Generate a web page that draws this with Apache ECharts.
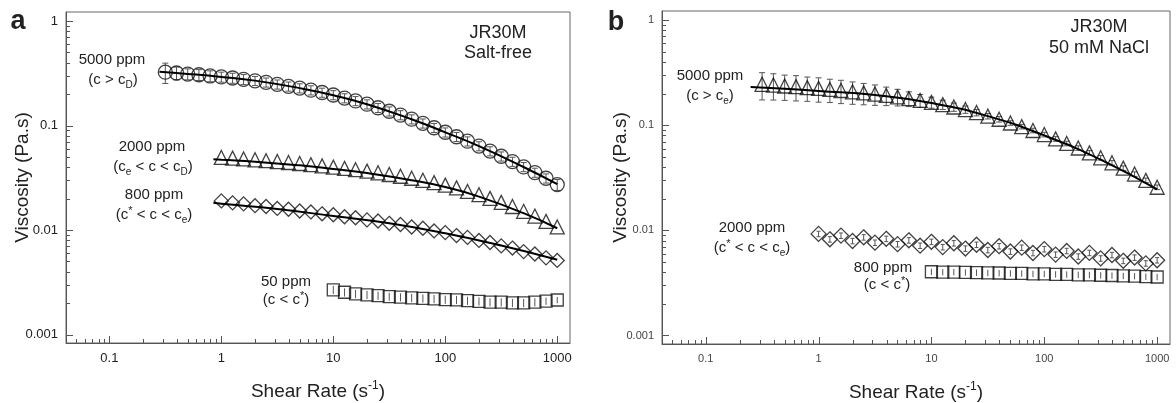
<!DOCTYPE html>
<html><head><meta charset="utf-8">
<script src="https://cdn.jsdelivr.net/npm/echarts@6/dist/echarts.min.js"></script>
<style>html,body{margin:0;padding:0;background:#fff}#c{width:1176px;height:403px}</style>
</head><body><div id="c"></div>
<script>
// ---------- data ----------
const shearRate = [0.316,0.398,0.501,0.631,0.794,1,1.26,1.58,2,2.51,3.16,3.98,5.01,6.31,7.94,10,12.6,15.8,20,25.1,31.6,39.8,50.1,63.1,79.4,100,126,158,200,251,316,398,501,631,794,1000];

// Panel a : JR30M salt-free
const a5000 = [0.324,0.318,0.311,0.306,0.298,0.292,0.285,0.277,0.268,0.259,0.248,0.237,0.228,0.218,0.207,0.196,0.183,0.172,0.160,0.148,0.137,0.126,0.115,0.105,0.0952,0.0862,0.0781,0.0708,0.0636,0.0569,0.0508,0.0452,0.0402,0.0355,0.0313,0.0272];
const a5000Err = [0.22,0.14,0.12,0.12,0.12,0.11,0.11,0.11,0.1,0.1,0.1,0.1,0.1,0.1,0.1,0.1,0.1,0.1,0.1,0.1,0.1,0.1,0.1,0.1,0.1,0.1,0.1,0.1,0.1,0.1,0.1,0.1,0.1,0.1,0.1,0.12];
const a5000FitX = [0.28,0.5,1,2,5,10,20,50,100,200,500,1000];
const a5000FitY = [0.327,0.312,0.292,0.269,0.228,0.195,0.160,0.115,0.0861,0.0635,0.0401,0.0275];
const a2000 = [0.0495,0.0488,0.0479,0.0470,0.0461,0.0452,0.0443,0.0433,0.0422,0.0411,0.0400,0.0389,0.0378,0.0366,0.0353,0.0340,0.0327,0.0313,0.0299,0.0284,0.0269,0.0253,0.0234,0.0218,0.0201,0.0184,0.0168,0.0151,0.0136,0.0121,0.0107];
const a2000FitX = [0.85,1,2,5,10,20,50,100,200,500,1000];
const a2000FitY = [0.0475,0.0470,0.0451,0.0416,0.0384,0.0351,0.0300,0.0258,0.0209,0.0145,0.0104];
const a800 = [0.0190,0.0182,0.0178,0.0171,0.0168,0.0161,0.0158,0.0152,0.0149,0.0143,0.0140,0.0134,0.0131,0.0125,0.0122,0.0116,0.0113,0.0107,0.0104,0.00980,0.00945,0.00885,0.00850,0.00795,0.00760,0.00705,0.00672,0.00622,0.00590,0.00542,0.00512];
const a800FitX = [0.85,1,3.16,10,31.6,100,316,1000];
const a800FitY = [0.0182,0.0178,0.0159,0.0136,0.0116,0.0093,0.0071,0.0052];
const a50 = [0.00268,0.00254,0.00245,0.00240,0.00236,0.00231,0.00228,0.00224,0.00222,0.00219,0.00216,0.00215,0.00211,0.00208,0.00204,0.00204,0.00201,0.00201,0.00204,0.00209,0.00214];
const a50Err = [0.09,0.09,0.09,0.09,0.09,0.09,0.09,0.09,0.09,0.09,0.09,0.09,0.09,0.09,0.09,0.09,0.09,0.09,0.09,0.08,0.07];

// Panel b : JR30M 50 mM NaCl
const b5000 = [0.245,0.241,0.236,0.233,0.228,0.224,0.219,0.214,0.208,0.203,0.198,0.192,0.186,0.179,0.172,0.165,0.157,0.149,0.141,0.132,0.122,0.114,0.105,0.0970,0.0891,0.0815,0.0741,0.0671,0.0607,0.0546,0.0490,0.0439,0.0391,0.0343,0.0299,0.0257];
const b5000Err = [0.29,0.28,0.27,0.27,0.26,0.26,0.25,0.25,0.24,0.23,0.22,0.2,0.18,0.16,0.14,0.12,0.1,0.09,0.08,0.07,0.06,0.06,0.05,0.05,0.05,0.05,0.05,0.05,0.05,0.05,0.05,0.05,0.05,0.05,0.05,0.05];
const b5000FitX = [0.25,0.5,1,3.16,10,31.6,100,316,1000];
const b5000FitY = [0.231,0.222,0.212,0.194,0.163,0.122,0.080,0.047,0.0245];
const b2000 = [0.00925,0.00822,0.00891,0.00792,0.00859,0.00764,0.00831,0.00739,0.00804,0.00715,0.00778,0.00693,0.00754,0.00671,0.00730,0.00650,0.00707,0.00629,0.00685,0.00609,0.00663,0.00588,0.00637,0.00564,0.00611,0.00541,0.00583,0.00513,0.00551,0.00485,0.00520];
const b2000Err = [0.06,0.06,0.06,0.06,0.06,0.06,0.06,0.06,0.06,0.06,0.06,0.06,0.06,0.06,0.06,0.06,0.06,0.06,0.06,0.06,0.06,0.06,0.06,0.06,0.06,0.06,0.06,0.06,0.06,0.06,0.06];
const b800 = [0.00404,0.00401,0.00401,0.00398,0.00397,0.00394,0.00393,0.00390,0.00389,0.00386,0.00385,0.00382,0.00381,0.00378,0.00377,0.00374,0.00372,0.00369,0.00367,0.00363,0.00360];
const b800Err = [0.07,0.07,0.07,0.07,0.07,0.07,0.07,0.07,0.07,0.07,0.07,0.07,0.07,0.07,0.07,0.07,0.07,0.07,0.07,0.07,0.07];

// axis ticks
const xTickLabels = ['0.1','1','10','100','1000'];
const yTickLabels = ['0.001','0.01','0.1','1'];
const xMajorTicks = [0.1,1,10,100,1000];
const yMajorTicks = [0.001,0.01,0.1,1];
const xMinorTicks = [0.05,0.06,0.07,0.08,0.09,0.2,0.3,0.4,0.5,0.6,0.7,0.8,0.9,2,3,4,5,6,7,8,9,20,30,40,50,60,70,80,90,200,300,400,500,600,700,800,900];
const yMinorTicks = [0.002,0.003,0.004,0.005,0.006,0.007,0.008,0.009,0.02,0.03,0.04,0.05,0.06,0.07,0.08,0.09,0.2,0.3,0.4,0.5,0.6,0.7,0.8,0.9];

// ---------- helpers ----------
const FONT = '"Liberation Sans", Arial, Helvetica, sans-serif';
const INK = '#222';
const AXIS = '#555';

function pairs(ys) { const off = shearRate.length - ys.length; return ys.map((v, i) => [shearRate[off + i], v]); }
function errData(ys, rel) { const off = shearRate.length - ys.length; return ys.map((v, i) => [shearRate[off + i], v * (1 - rel[i]), v * (1 + rel[i])]); }
function fit(xs, ys) { return xs.map((x, i) => [x, ys[i]]); }

function scatter(gi, ys, symbol, size) {
  return { type: 'scatter', xAxisIndex: gi, yAxisIndex: gi, data: pairs(ys), symbol, symbolSize: size, z: 4, silent: true,
    itemStyle: { color: 'rgba(255,255,255,0)', borderColor: '#111', borderWidth: 1.3 } };
}
function fitLine(gi, xs, ys) {
  return { type: 'line', xAxisIndex: gi, yAxisIndex: gi, data: fit(xs, ys), smooth: true, showSymbol: false, z: 5, silent: true,
    lineStyle: { color: '#000', width: 2 } };
}
function errSeries(gi, data, cap) {
  return { type: 'custom', xAxisIndex: gi, yAxisIndex: gi, silent: true, z: 3, data, encode: { x: 0, y: [1, 2] },
    renderItem: (params, api) => {
      const x = api.value(0), lo = api.value(1), hi = api.value(2);
      const p1 = api.coord([x, lo]), p2 = api.coord([x, hi]);
      const st = { stroke: '#555', lineWidth: 1 };
      const ch = [{ type: 'line', shape: { x1: p1[0], y1: p1[1], x2: p2[0], y2: p2[1] }, style: st }];
      if (cap) {
        ch.push({ type: 'line', shape: { x1: p1[0] - cap, y1: p1[1], x2: p1[0] + cap, y2: p1[1] }, style: st });
        ch.push({ type: 'line', shape: { x1: p2[0] - cap, y1: p2[1], x2: p2[0] + cap, y2: p2[1] }, style: st });
      }
      return { type: 'group', children: ch };
    } };
}
function tickSeries(gi, axis, values, len) {
  return { type: 'custom', xAxisIndex: gi, yAxisIndex: gi, silent: true, z: 6,
    data: values.map(v => axis === 'x' ? [v, 0.01] : [1, v]),
    renderItem: (params, api) => {
      const cs = params.coordSys;
      if (axis === 'x') {
        const px = Math.round(api.coord([api.value(0), 0.01])[0]) + 0.5;
        const y0 = cs.y + cs.height;
        return { type: 'line', shape: { x1: px, y1: y0, x2: px, y2: y0 - len }, style: { stroke: AXIS, lineWidth: 1 } };
      }
      const py = Math.round(api.coord([1, api.value(1)])[1]) + 0.5;
      return { type: 'line', shape: { x1: cs.x, y1: py, x2: cs.x + len, y2: py }, style: { stroke: AXIS, lineWidth: 1 } };
    } };
}
function decadeLabel(labels) {
  return v => {
    const l = Math.log10(v);
    if (Math.abs(l - Math.round(l)) > 1e-6) return '';
    const s = labels.find(t => Math.abs(Math.log10(parseFloat(t)) - l) < 1e-6);
    return s || '';
  };
}
function xAxis(gi, fs, col) {
  return { type: 'log', logBase: 10, gridIndex: gi, min: 0.041, max: 1300,
    axisLine: { show: true, onZero: false, lineStyle: { color: AXIS, width: 1 } },
    axisTick: { show: false }, splitLine: { show: false }, minorTick: { show: false },
    axisLabel: { formatter: decadeLabel(xTickLabels), fontSize: fs, color: col, fontFamily: FONT, margin: 9, showMinLabel: false, showMaxLabel: false },
    name: 'Shear Rate (s{sup|-1})', nameLocation: 'middle', nameGap: 37, nameMoveOverlap: false,
    nameTextStyle: { fontSize: 19, color: INK, fontFamily: FONT, lineHeight: 24,
      rich: { sup: { fontSize: 12, lineHeight: 12, verticalAlign: 'top', color: INK, fontFamily: FONT } } } };
}
function yAxis(gi, fs, col, gap) {
  return { type: 'log', logBase: 10, gridIndex: gi, min: 0.00083, max: 1.22,
    axisLine: { show: true, onZero: false, lineStyle: { color: AXIS, width: 1 } },
    axisTick: { show: false }, splitLine: { show: false }, minorTick: { show: false },
    axisLabel: { formatter: decadeLabel(yTickLabels), fontSize: fs, color: col, fontFamily: FONT, margin: 8, showMinLabel: false, showMaxLabel: false },
    name: 'Viscosity (Pa.s)', nameLocation: 'middle', nameGap: gap, nameMoveOverlap: false,
    nameTextStyle: { fontSize: 19, color: INK, fontFamily: FONT } };
}
const RICH = {
  d: { fontSize: 10, lineHeight: 10, verticalAlign: 'bottom', fontFamily: FONT, fill: INK },
  p: { fontSize: 11, lineHeight: 11, verticalAlign: 'top', fontFamily: FONT, fill: INK }
};
function txt(text, x, y, size, weight) {
  return { type: 'text', silent: true, z: 10,
    style: { text, x, y, textAlign: 'center', textVerticalAlign: 'middle', fill: INK,
      font: (weight || 'normal') + ' ' + size + 'px ' + FONT, lineHeight: 20, rich: RICH } };
}

// ---------- chart ----------
const chart = echarts.init(document.getElementById('c'), null, { renderer: 'canvas' });
chart.setOption({
  animation: false,
  backgroundColor: '#fff',
  grid: [
    { left: 66, top: 12, width: 504, height: 331, show: true, borderColor: '#666', borderWidth: 1, backgroundColor: 'transparent', outerBoundsMode: 'none' },
    { left: 662, top: 11, width: 508, height: 333, show: true, borderColor: '#666', borderWidth: 1, backgroundColor: 'transparent', outerBoundsMode: 'none' }
  ],
  xAxis: [xAxis(0, 13, '#222'), xAxis(1, 11, '#444')],
  yAxis: [yAxis(0, 13, '#222', 34), yAxis(1, 11, '#444', 32)],
  series: [
    // panel a
    errSeries(0, errData(a5000, a5000Err), 3),
    errSeries(0, errData(a50, a50Err), 0),
    fitLine(0, a5000FitX, a5000FitY),
    fitLine(0, a2000FitX, a2000FitY),
    fitLine(0, a800FitX, a800FitY),
    scatter(0, a5000, 'circle', 14),
    scatter(0, a2000, 'triangle', 14),
    scatter(0, a800, 'diamond', 14),
    scatter(0, a50, 'rect', 12),
    tickSeries(0, 'x', xMajorTicks, 7), tickSeries(0, 'x', xMinorTicks, 4),
    tickSeries(0, 'y', yMajorTicks, 7), tickSeries(0, 'y', yMinorTicks, 4),
    // panel b
    errSeries(1, errData(b5000, b5000Err), 3),
    errSeries(1, errData(b2000, b2000Err), 2),
    errSeries(1, errData(b800, b800Err), 0),
    fitLine(1, b5000FitX, b5000FitY),
    scatter(1, b5000, 'triangle', 14),
    scatter(1, b2000, 'diamond', 15),
    scatter(1, b800, 'rect', 12),
    tickSeries(1, 'x', xMajorTicks, 7), tickSeries(1, 'x', xMinorTicks, 4),
    tickSeries(1, 'y', yMajorTicks, 7), tickSeries(1, 'y', yMinorTicks, 4)
  ],
  graphic: [
    txt('a', 18, 22, 27, 'bold'),
    txt('b', 616, 23, 27, 'bold'),
    txt('5000 ppm', 112, 60, 15), txt('(c > c{d|D})', 113, 80, 15),
    txt('2000 ppm', 152, 147, 15), txt('(c{d|e} < c < c{d|D})', 153, 167, 15),
    txt('800 ppm', 154, 195, 15), txt('(c{p|*} < c < c{d|e})', 154, 215, 15),
    txt('50 ppm', 286, 282, 15), txt('(c < c{p|*})', 286, 300, 15),
    txt('JR30M', 498, 33, 18), txt('Salt-free', 498, 53, 18),
    txt('5000 ppm', 710, 76, 15), txt('(c > c{d|e})', 710, 96, 15),
    txt('JR30M', 1099, 27, 18), txt('50 mM NaCl', 1099, 48, 18),
    txt('2000 ppm', 752, 228, 15), txt('(c{p|*} < c < c{d|e})', 752, 248, 15),
    txt('800 ppm', 883, 268, 15), txt('(c < c{p|*})', 887, 285, 15)
  ]
});
</script></body></html>
